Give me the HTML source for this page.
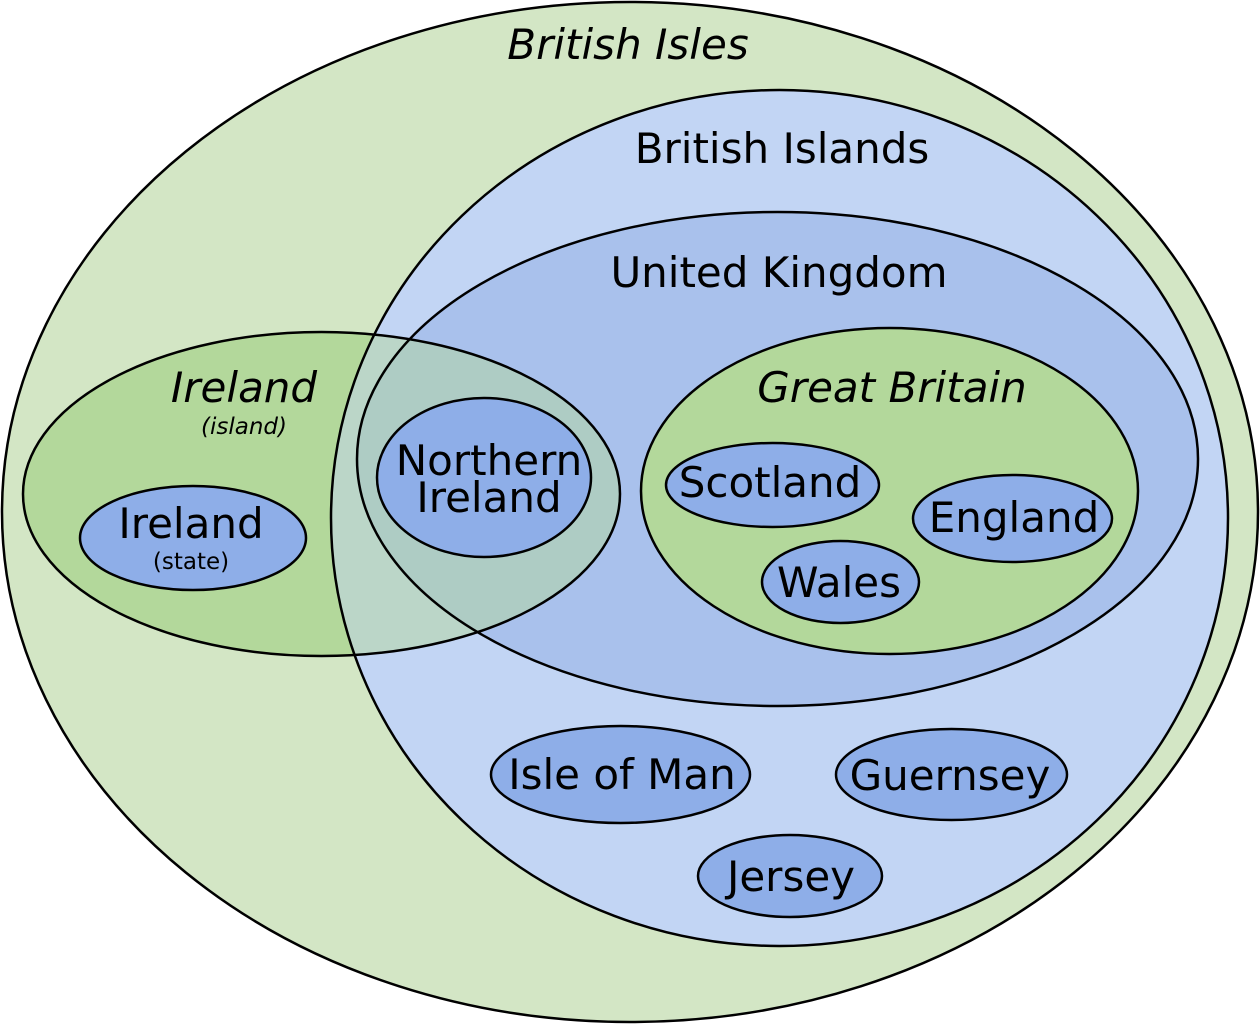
<!DOCTYPE html>
<html><head><meta charset="utf-8"><style>body{margin:0;background:#fff}svg{display:block}</style></head>
<body>
<svg width="1260" height="1024" viewBox="0 0 1260 1024" xmlns="http://www.w3.org/2000/svg" font-family="'DejaVu Sans','Liberation Sans',sans-serif" stroke="#000" stroke-width="2.5">
<ellipse cx="630" cy="512" rx="628" ry="510" fill="#d3e6c5"/>
<ellipse cx="321.5" cy="494" rx="298.5" ry="162" fill="#b3d89b" stroke="none"/>
<ellipse cx="779.5" cy="518" rx="448.5" ry="428" fill="#c2d5f4" stroke="none"/>
<ellipse cx="777.5" cy="459" rx="420.5" ry="247" fill="#a9c1ec" stroke="none"/>
<ellipse cx="321.5" cy="494" rx="298.5" ry="162" fill="#b3d89b" fill-opacity="0.5" stroke="none"/>
<ellipse cx="779.5" cy="518" rx="448.5" ry="428" fill="none"/>
<ellipse cx="777.5" cy="459" rx="420.5" ry="247" fill="none"/>
<ellipse cx="321.5" cy="494" rx="298.5" ry="162" fill="none"/>
<ellipse cx="889.5" cy="491" rx="248.5" ry="163" fill="#b3d89b"/>
<ellipse cx="484" cy="477.5" rx="107" ry="79.5" fill="#8eaee8"/>
<ellipse cx="193" cy="538" rx="113" ry="52" fill="#8eaee8"/>
<ellipse cx="772.5" cy="485" rx="106.5" ry="42" fill="#8eaee8"/>
<ellipse cx="1012.5" cy="518.5" rx="99.5" ry="43.5" fill="#8eaee8"/>
<ellipse cx="840.5" cy="582" rx="78.5" ry="41" fill="#8eaee8"/>
<ellipse cx="620.5" cy="774.5" rx="129.5" ry="48.5" fill="#8eaee8"/>
<ellipse cx="951.5" cy="774.5" rx="115.5" ry="45.5" fill="#8eaee8"/>
<ellipse cx="790" cy="876" rx="92" ry="41" fill="#8eaee8"/>
<g stroke="none" fill="#000" text-anchor="middle" font-size="42">
<text x="628" y="59" font-style="italic">British Isles</text>
<text x="782" y="163">British Islands</text>
<text x="779" y="287">United Kingdom</text>
<text x="892" y="402" font-style="italic">Great Britain</text>
<text x="244" y="402" font-style="italic">Ireland</text>
<text x="244" y="434" font-style="italic" font-size="23">(island)</text>
<text x="489" y="475">Northern</text>
<text x="489" y="512">Ireland</text>
<text x="191" y="538">Ireland</text>
<text x="191" y="569" font-size="23">(state)</text>
<text x="770" y="497">Scotland</text>
<text x="1014" y="532">England</text>
<text x="839" y="597">Wales</text>
<text x="622" y="789">Isle of Man</text>
<text x="950" y="790">Guernsey</text>
<text x="791" y="891">Jersey</text>
</g>
</svg>
</body></html>
